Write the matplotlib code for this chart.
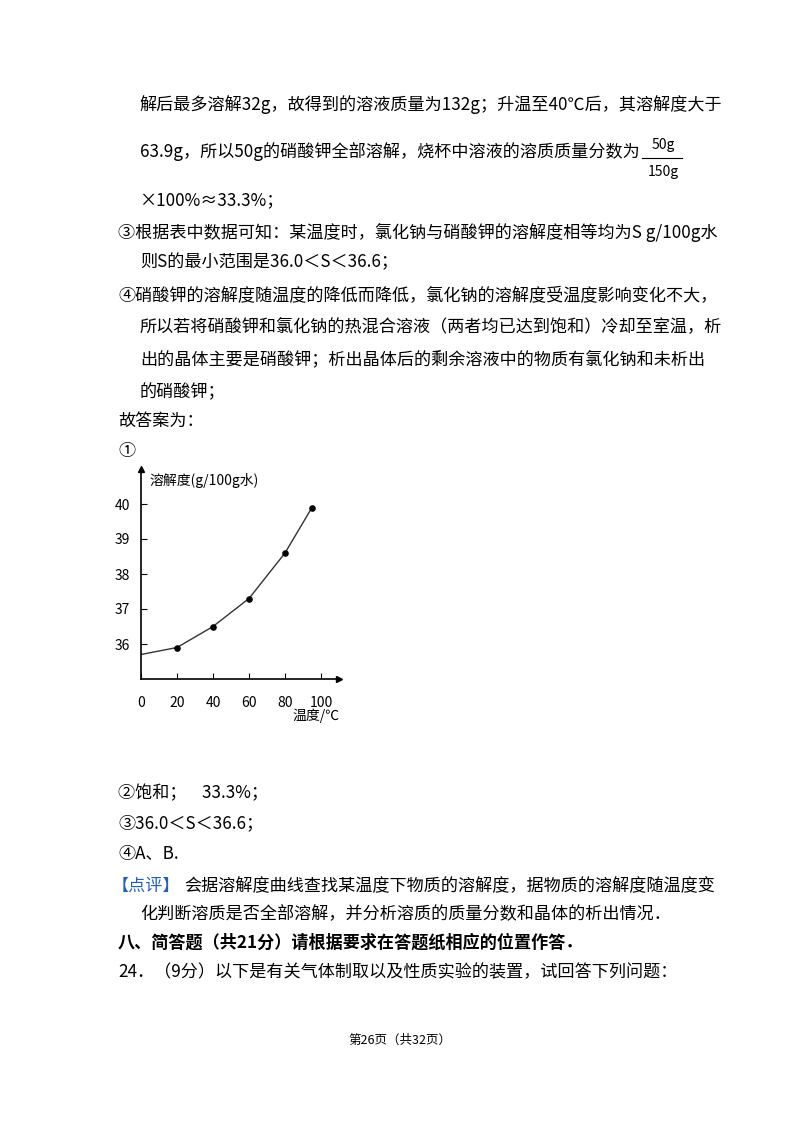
import matplotlib
matplotlib.use("Agg")
import matplotlib.pyplot as plt

plt.rcParams['font.family'] = ['Noto Sans CJK SC', 'DejaVu Sans']

temps = [0, 20, 40, 60, 80, 95]
solub = [35.7, 35.9, 36.5, 37.3, 38.6, 39.9]
xticks = [0, 20, 40, 60, 80, 100]
yticks = [36, 37, 38, 39, 40]

W, H = 800, 1132
fig = plt.figure(figsize=(W/100, H/100), dpi=100)
fs = 12.3

def T(x, y, s, **kw):
    kw.setdefault('fontsize', fs)
    fig.text(x/W, 1-y/H, s, va='center', ha=kw.pop('ha', 'left'), **kw)

T(140, 105, "解后最多溶解32g，故得到的溶液质量为132g；升温至40℃后，其溶解度大于")
T(140, 152, "63.9g，所以50g的硝酸钾全部溶解，烧杯中溶液的溶质质量分数为")
T(663, 145, "50g", fontsize=10, ha='center')
fig.add_artist(plt.Line2D([642/W, 682/W], [1-158/H, 1-158/H], color='black', lw=0.8))
T(663, 172, "150g", fontsize=10, ha='center')
T(140, 200, "×100%≈33.3%；")
T(118, 232, "③根据表中数据可知：某温度时，氯化钠与硝酸钾的溶解度相等均为S g/100g水")
T(140, 262, "则S的最小范围是36.0＜S＜36.6；")
T(118, 296, "④硝酸钾的溶解度随温度的降低而降低，氯化钠的溶解度受温度影响变化不大，")
T(140, 326, "所以若将硝酸钾和氯化钠的热混合溶液（两者均已达到饱和）冷却至室温，析")
T(140, 359, "出的晶体主要是硝酸钾；析出晶体后的剩余溶液中的物质有氯化钠和未析出")
T(140, 392, "的硝酸钾；")
T(118, 421, "故答案为：")
T(118, 451, "①")

# chart
ax = fig.add_axes([141/W, 1-679/H, 198/W, 210/H])
ax.set_xlim(0, 110)
ax.set_ylim(35, 41)
ax.plot(temps, solub, color='#333333', lw=1)
ax.scatter(temps[1:], solub[1:], s=14, color='black', zorder=3)
for s in ['top', 'right']:
    ax.spines[s].set_visible(False)
for s in ['left', 'bottom']:
    ax.spines[s].set_linewidth(1.2)
ax.plot(1, 0, '>k', transform=ax.transAxes, clip_on=False, ms=5)
ax.plot(0, 1, '^k', transform=ax.transAxes, clip_on=False, ms=5)
ax.set_xticks(xticks)
ax.set_yticks(yticks)
ax.tick_params(axis='x', direction='in', length=4, pad=12, labelsize=10)
ax.tick_params(axis='y', direction='in', length=4, pad=8, labelsize=10)
ax.set_facecolor('none')
T(150, 480, "溶解度(g/100g水)", fontsize=10)
T(292, 716, "温度/℃", fontsize=10)

T(118, 793, "②饱和；    33.3%；")
T(118, 823, "③36.0＜S＜36.6；")
T(118, 854, "④A、B.")
T(112, 886, "【点评】", color='#1f5fbf')
T(184, 886, "会据溶解度曲线查找某温度下物质的溶解度，据物质的溶解度随温度变")
T(140, 914, "化判断溶质是否全部溶解，并分析溶质的质量分数和晶体的析出情况．")
T(118, 943, "八、简答题（共21分）请根据要求在答题纸相应的位置作答．", fontweight='bold')
T(118, 972, "24．（9分）以下是有关气体制取以及性质实验的装置，试回答下列问题：")
T(400, 1040, "第26页（共32页）", fontsize=9, ha='center')

fig.savefig("out.png", dpi=100)
